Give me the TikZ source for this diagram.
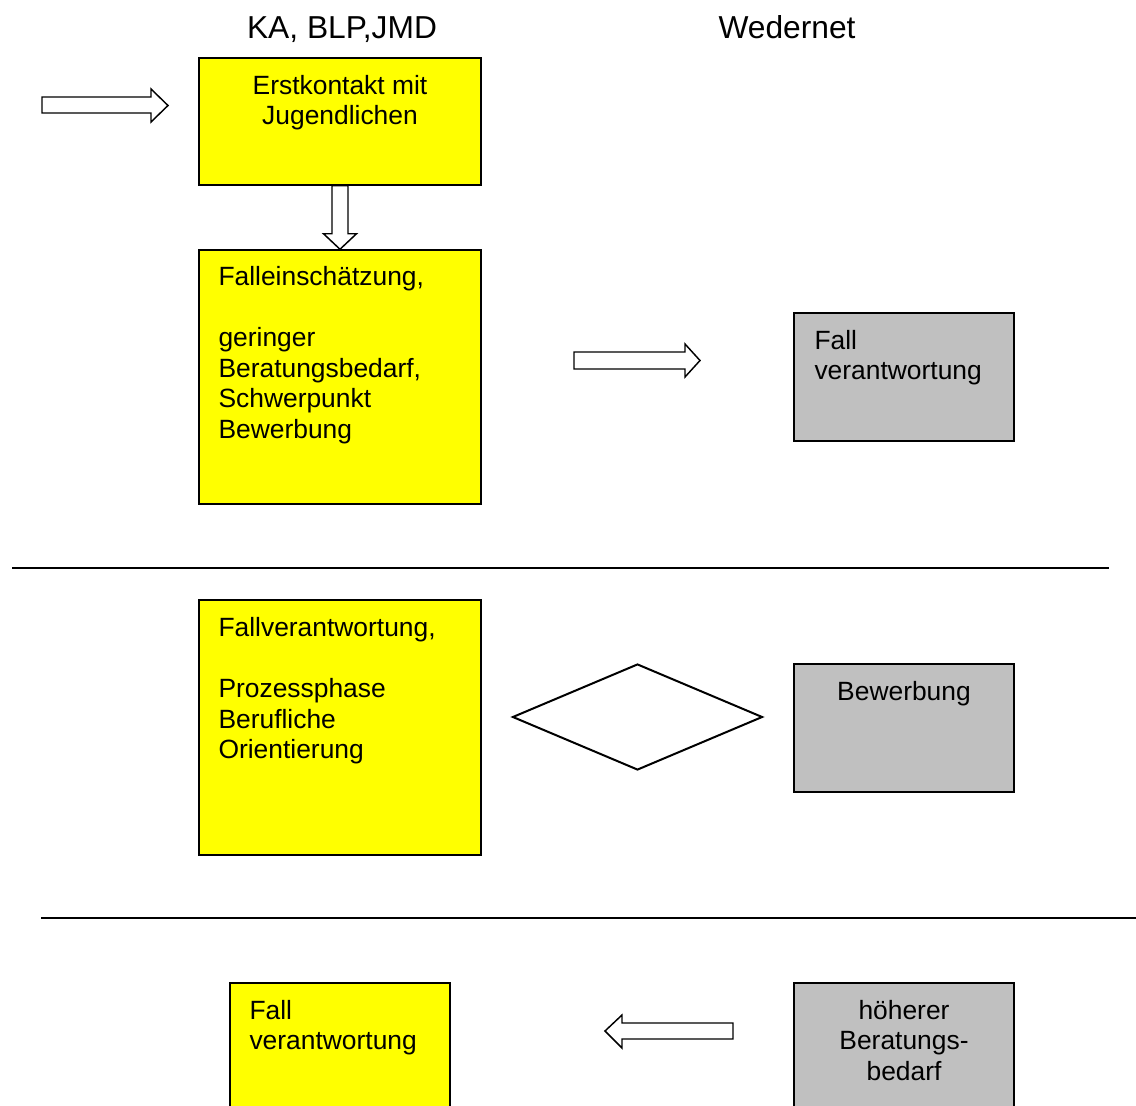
\documentclass[tikz,border=0pt]{standalone}
\usepackage{fontspec}
\setmainfont{Liberation Sans}
\usetikzlibrary{fit,calc,shapes.geometric}
\definecolor{boxyellow}{HTML}{FFFF00}
\definecolor{boxgray}{HTML}{C0C0C0}
% stacked lines whose reference point is the baseline of the first line
\newcommand\boxlines[2]{\begin{tabular}[t]{@{}#1@{}}#2\end{tabular}}
\tikzset{
  box/.style={draw=black, line width=1.1pt, inner sep=0pt, fill=boxyellow},
  graybox/.style={box, fill=boxgray},
  txt/.style={inner sep=0pt, font=\fontsize{19.8}{23}\selectfont},
  lefttxt/.style={txt, anchor=base west},
  midtxt/.style={txt, anchor=base},
  head/.style={inner sep=0pt, anchor=base, font=\fontsize{23.8}{28}\selectfont},
  blockarrow/.style={draw=black, line width=1.1pt, fill=white, line join=miter},
  rule/.style={line width=1.6pt},
}
\begin{document}
\begin{tikzpicture}[x=0.75pt,y=-0.75pt]
  \clip (0,0) rectangle (1136,1106);
  \fill[white] (0,0) rectangle (1136,1106);

  % column headings
  \node[head] (hl) at (342,38.5) {KA, BLP,JMD};
  \node[head] (hr) at (787,38.5) {Wedernet};

  % boxes
  \node[box, fit={(199,58)(481,185)}] (b1) {};
  \node[box, fit={(199,250)(481,504)}] (b2) {};
  \node[graybox, fit={(794,313)(1014,441)}] (g1) {};
  \node[box, fit={(199,600)(481,855)}] (b3) {};
  \node[graybox, fit={(794,664)(1014,792)}] (g2) {};
  \node[box, fit={(230,983)(450,1125)}] (b4) {};
  \node[graybox, fit={(794,983)(1014,1125)}] (g3) {};
  \node[diamond, draw=black, line width=1.5pt, inner sep=0pt,
        minimum width=187.5pt, minimum height=79.5pt] (d) at (637.5,717) {};

  % box texts
  \node[midtxt] (t1) at ($(b1.north)+(0,37)$)
    {\boxlines{c}{Erstkontakt mit\\Jugendlichen}};
  \node[lefttxt] (t2) at ($(b2.north west)+(20,36)$)
    {\boxlines{l}{Falleinschätzung,\\ \\geringer\\Beratungsbedarf,\\Schwerpunkt\\Bewerbung}};
  \node[lefttxt] (tg1) at ($(g1.north west)+(21,37)$)
    {\boxlines{l}{Fall\\verantwortung}};
  \node[lefttxt] (t3) at ($(b3.north west)+(20,37)$)
    {\boxlines{l}{Fallverantwortung,\\ \\Prozessphase\\Berufliche\\Orientierung}};
  \node[midtxt] (tg2) at ($(g2.north)+(0,37)$) {Bewerbung};
  \node[lefttxt] (t4) at ($(b4.north west)+(20,37)$)
    {\boxlines{l}{Fall\\verantwortung}};
  \node[midtxt] (tg3) at ($(g3.north)+(0,37)$)
    {\boxlines{c}{höherer\\Beratungs-\\bedarf}};

  % separators
  \draw[rule] (12,568) -- (1109,568);
  \draw[rule] (41,918) -- (1136,918);

  % block arrows
  \draw[blockarrow] (42,97) -- (151,97) -- (151,89) -- (168,105.5)
    -- (151,122) -- (151,113) -- (42,113) -- cycle;
  \draw[blockarrow] ($(b1.south)+(-8,0)$) -- ($(b1.south)+(8,0)$)
    -- ($(b1.south)+(8,48)$) -- ($(b1.south)+(16.5,48)$) -- (b2.north)
    -- ($(b1.south)+(-16.5,48)$) -- ($(b1.south)+(-8,48)$) -- cycle;
  \draw[blockarrow] (574,352) -- (685,352) -- (685,344) -- (700,360.5)
    -- (685,377) -- (685,369) -- (574,369) -- cycle;
  \draw[blockarrow] (733,1023) -- (622,1023) -- (622,1015) -- (605,1031)
    -- (622,1048) -- (622,1039) -- (733,1039) -- cycle;
\end{tikzpicture}
\end{document}
